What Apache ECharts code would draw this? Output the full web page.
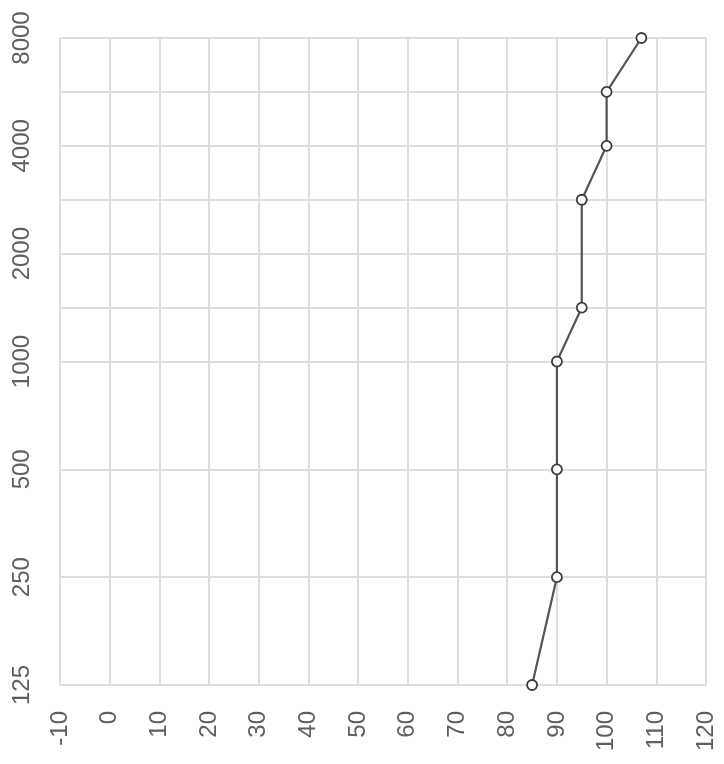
<!DOCTYPE html>
<html>
<head>
<meta charset="utf-8">
<script src="https://cdn.jsdelivr.net/npm/echarts@6/dist/echarts.min.js"></script>
<style>
html,body{margin:0;padding:0;background:#fff;}
#chart{width:724px;height:764px;}
</style>
</head>
<body>
<div id="chart"></div>
<script>
// Frequency categories (bottom to top); blank slots keep octave spacing
const freqCategories = ['125', '', '250', '', '500', '', '1000', '1500', '2000', '3000', '4000', '6000', '8000'];
// Labels shown on the frequency axis
const freqLabelsShown = ['125', '250', '500', '1000', '2000', '4000', '8000'];
// Threshold values (dB) per category; null = no measurement
const thresholds = [85, null, 90, null, 90, null, 90, 95, null, 95, 100, 100, 107];
// Level axis range
const levelMin = -10, levelMax = 120, levelStep = 10;

const chart = echarts.init(document.getElementById('chart'), null, {renderer: 'canvas'});
const labelFont = {color: '#5f5f5f', fontSize: 24, fontFamily: 'Liberation Sans, Arial, sans-serif'};
chart.setOption({
  animation: false,
  backgroundColor: '#ffffff',
  grid: {left: 60, right: 18, top: 38, bottom: 79, containLabel: false},
  xAxis: {
    type: 'value',
    min: levelMin, max: levelMax, interval: levelStep,
    axisLine: {show: false},
    axisTick: {show: false},
    axisLabel: Object.assign({rotate: 90, margin: 26}, labelFont),
    splitLine: {show: true, lineStyle: {color: '#dedede', width: 2}}
  },
  yAxis: {
    type: 'category',
    data: freqCategories,
    boundaryGap: false,
    axisLine: {show: false},
    axisTick: {show: false},
    axisLabel: Object.assign({
      rotate: 90, margin: 26,
      interval: function (idx, val) { return freqLabelsShown.indexOf(val) !== -1; }
    }, labelFont),
    splitLine: {
      show: true,
      interval: function (idx, val) { return val !== ''; },
      lineStyle: {color: '#dedede', width: 2}
    }
  },
  series: [{
    type: 'line',
    data: thresholds,
    connectNulls: true,
    symbol: 'circle',
    symbolSize: 10,
    lineStyle: {color: '#555555', width: 2.2},
    itemStyle: {color: '#ffffff', borderColor: '#3c3c3c', borderWidth: 1.8},
    z: 3
  }]
});
</script>
</body>
</html>
